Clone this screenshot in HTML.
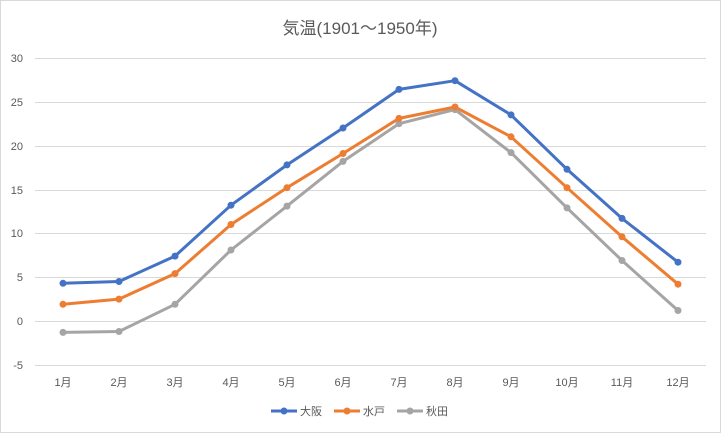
<!DOCTYPE html>
<html><head><meta charset="utf-8"><style>
html,body{margin:0;padding:0;background:#fff;}
svg{display:block;font-family:"Liberation Sans","Noto Sans CJK JP",sans-serif;}
</style></head><body>
<svg width="721" height="433" viewBox="0 0 721 433" xmlns="http://www.w3.org/2000/svg">
<rect x="0.5" y="0.5" width="720" height="432" fill="#fff" stroke="#d9d9d9"/>
<text x="360" y="34" text-anchor="middle" font-size="17" fill="#595959">気温(1901～1950年)</text>
<g stroke="#d9d9d9" stroke-width="1">
<line x1="35" x2="706" y1="58.5" y2="58.5"/>
<line x1="35" x2="706" y1="102.5" y2="102.5"/>
<line x1="35" x2="706" y1="146.5" y2="146.5"/>
<line x1="35" x2="706" y1="190.5" y2="190.5"/>
<line x1="35" x2="706" y1="233.5" y2="233.5"/>
<line x1="35" x2="706" y1="277.5" y2="277.5"/>
<line x1="35" x2="706" y1="321.5" y2="321.5"/>
<line x1="35" x2="706" y1="365.5" y2="365.5"/>
</g>
<g font-size="11" fill="#595959" text-anchor="end">
<text x="23" y="62">30</text><text x="23" y="106">25</text><text x="23" y="150">20</text>
<text x="23" y="194">15</text><text x="23" y="237">10</text><text x="23" y="281">5</text>
<text x="23" y="325">0</text><text x="23" y="369">-5</text>
</g>
<g font-size="11" fill="#595959" text-anchor="middle">
<text x="63" y="386">1月</text><text x="119" y="386">2月</text><text x="175" y="386">3月</text>
<text x="231" y="386">4月</text><text x="287" y="386">5月</text><text x="343" y="386">6月</text>
<text x="399" y="386">7月</text><text x="455" y="386">8月</text><text x="511" y="386">9月</text>
<text x="567" y="386">10月</text><text x="622" y="386">11月</text><text x="678" y="386">12月</text>
</g>
<g fill="none" stroke-width="3" stroke-linejoin="round">
<polyline stroke="#a5a5a5" points="63,332.4 119,331.5 175,304.3 231,250 287,206.1 343,161.4 399,123.7 455,109.6 511,152.6 567,207.9 622,260.5 678,310.5"/>
<polyline stroke="#ed7d31" points="63,304.3 119,299.1 175,273.6 231,224.5 287,187.7 343,153.5 399,118.4 455,107 511,136.8 567,187.7 622,236.8 678,284.2"/>
<polyline stroke="#4472c4" points="63,283.3 119,281.5 175,256.1 231,205.2 287,164.9 343,128 399,89.4 455,80.7 511,114.9 567,169.3 622,218.4 678,262.2"/>
</g>
<g fill="#a5a5a5">
<circle cx="63" cy="332.4" r="3.5"/><circle cx="119" cy="331.5" r="3.5"/><circle cx="175" cy="304.3" r="3.5"/><circle cx="231" cy="250" r="3.5"/><circle cx="287" cy="206.1" r="3.5"/><circle cx="343" cy="161.4" r="3.5"/><circle cx="399" cy="123.7" r="3.5"/><circle cx="455" cy="109.6" r="3.5"/><circle cx="511" cy="152.6" r="3.5"/><circle cx="567" cy="207.9" r="3.5"/><circle cx="622" cy="260.5" r="3.5"/><circle cx="678" cy="310.5" r="3.5"/>
</g>
<g fill="#ed7d31">
<circle cx="63" cy="304.3" r="3.5"/><circle cx="119" cy="299.1" r="3.5"/><circle cx="175" cy="273.6" r="3.5"/><circle cx="231" cy="224.5" r="3.5"/><circle cx="287" cy="187.7" r="3.5"/><circle cx="343" cy="153.5" r="3.5"/><circle cx="399" cy="118.4" r="3.5"/><circle cx="455" cy="107" r="3.5"/><circle cx="511" cy="136.8" r="3.5"/><circle cx="567" cy="187.7" r="3.5"/><circle cx="622" cy="236.8" r="3.5"/><circle cx="678" cy="284.2" r="3.5"/>
</g>
<g fill="#4472c4">
<circle cx="63" cy="283.3" r="3.5"/><circle cx="119" cy="281.5" r="3.5"/><circle cx="175" cy="256.1" r="3.5"/><circle cx="231" cy="205.2" r="3.5"/><circle cx="287" cy="164.9" r="3.5"/><circle cx="343" cy="128" r="3.5"/><circle cx="399" cy="89.4" r="3.5"/><circle cx="455" cy="80.7" r="3.5"/><circle cx="511" cy="114.9" r="3.5"/><circle cx="567" cy="169.3" r="3.5"/><circle cx="622" cy="218.4" r="3.5"/><circle cx="678" cy="262.2" r="3.5"/>
</g>
<g font-size="11" fill="#595959">
<line x1="271" x2="297" y1="411" y2="411" stroke="#4472c4" stroke-width="3"/><circle cx="284" cy="411" r="3.5" fill="#4472c4"/>
<text x="300" y="415">大阪</text>
<line x1="334" x2="360" y1="411" y2="411" stroke="#ed7d31" stroke-width="3"/><circle cx="347" cy="411" r="3.5" fill="#ed7d31"/>
<text x="363" y="415">水戸</text>
<line x1="397" x2="423" y1="411" y2="411" stroke="#a5a5a5" stroke-width="3"/><circle cx="410" cy="411" r="3.5" fill="#a5a5a5"/>
<text x="426" y="415">秋田</text>
</g>
</svg>
</body></html>
